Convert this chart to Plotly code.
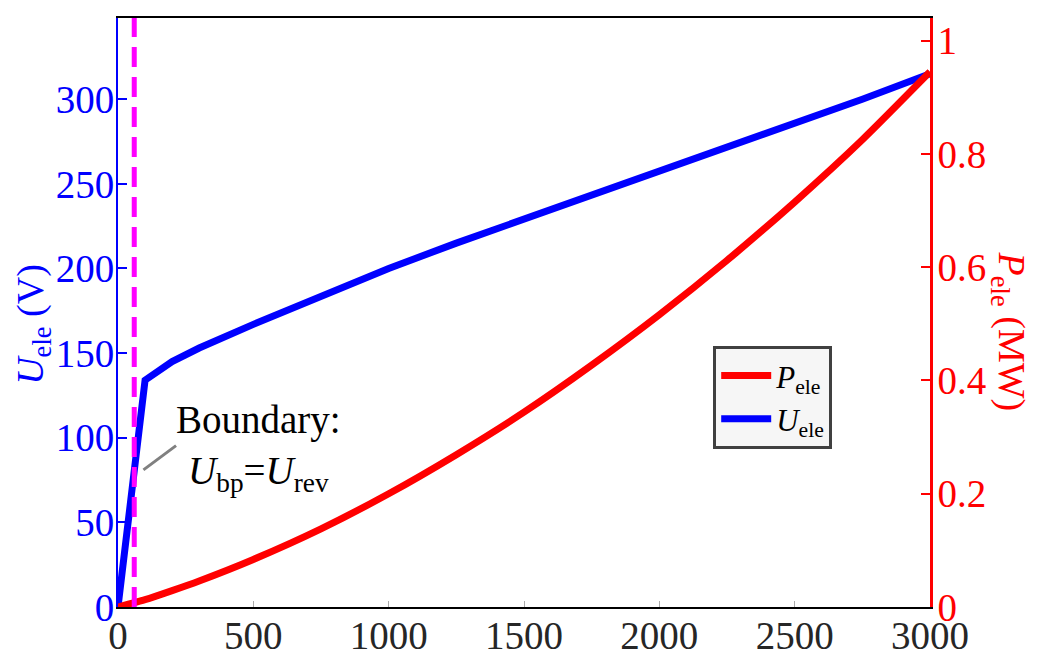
"""
Tension et puissance de l'électrolyseur en fonction du courant.
"""

import plotly.graph_objects as go

#### Données
courant = [0, 100, 200, 300, 500, 750, 1000, 1250, 1500, 1750, 2000, 2250, 2500, 2750, 3000]
u_ele = [0, 134, 145, 153, 167, 184, 200, 215, 229, 244, 258, 272, 286, 300, 315]
p_ele = [0, 0.013, 0.029, 0.046, 0.084, 0.138, 0.200, 0.269, 0.344, 0.427, 0.516, 0.612, 0.715, 0.825, 0.945]

# frontière U_bp = U_rev
i_boundary = 60

x_ticks = [0, 500, 1000, 1500, 2000, 2500, 3000]
u_ticks = [0, 50, 100, 150, 200, 250, 300]
p_ticks = [0, 0.2, 0.4, 0.6, 0.8, 1]
p_tick_labels = ["0", "0.2", "0.4", "0.6", "0.8", "1"]

FONT = "Liberation Serif, Times New Roman, serif"
BLUE = "#0000ff"
RED = "#ff0000"


def main():
    fig = go.Figure()

    fig.add_trace(go.Scatter(
        x=courant, y=u_ele, mode="lines", name="<i>U</i><sub>ele</sub>",
        line=dict(color=BLUE, width=7), legendrank=2,
    ))
    fig.add_trace(go.Scatter(
        x=courant, y=p_ele, mode="lines", name="<i>P</i><sub>ele</sub>",
        line=dict(color=RED, width=7, shape="spline", smoothing=0.6),
        yaxis="y2", legendrank=1,
    ))

    # ligne verticale en pointillés
    fig.add_shape(
        type="line", xref="x", yref="paper",
        x0=i_boundary, x1=i_boundary, y0=0, y1=1,
        line=dict(color="#ff00ff", width=5, dash="20px,10px"),
    )

    # annotation "Boundary"
    fig.add_annotation(
        x=94, y=81, ax=220, ay=96, xref="x", yref="y", axref="x", ayref="y",
        text="", showarrow=True, arrowhead=0, arrowwidth=3, arrowcolor="#808080",
    )
    fig.add_annotation(
        x=520, y=94, xref="x", yref="y", showarrow=False,
        xanchor="center", yanchor="middle",
        text="Boundary:<br><i>U</i><sub>bp</sub>=<i>U</i><sub>rev</sub>",
        font=dict(family=FONT, size=39, color="black"), align="center",
    )

    # titres des axes
    fig.add_annotation(
        x=-0.104, y=0.48, xref="paper", yref="paper", showarrow=False,
        xanchor="center", yanchor="middle",
        text="<i>U</i><sub>ele</sub> (V)", textangle=-90,
        font=dict(family=FONT, size=38, color=BLUE),
    )
    fig.add_annotation(
        x=1.097, y=0.468, xref="paper", yref="paper", showarrow=False,
        xanchor="center", yanchor="middle",
        text="<i>P</i><sub>ele</sub> (MW)", textangle=90,
        font=dict(family=FONT, size=38, color=RED),
    )

    fig.update_layout(
        width=1043, height=666,
        margin=dict(l=110, r=121, t=10, b=67, autoexpand=False),
        plot_bgcolor="white", paper_bgcolor="white",
        font=dict(family=FONT, size=38),
        showlegend=True,
        legend=dict(
            x=0.733, y=0.356, xanchor="left", yanchor="middle",
            bgcolor="#f6f6f6", bordercolor="#404040", borderwidth=3,
            font=dict(family=FONT, size=31, color="black"),
            tracegroupgap=0, itemwidth=50,
        ),
        xaxis=dict(
            range=[0, 3000], tickvals=x_ticks, showgrid=False, zeroline=False,
            showline=True, linecolor="black", linewidth=2, mirror=True,
            ticks="inside", ticklen=6, tickcolor="#aaaaaa", tickwidth=1,
            tickfont=dict(family=FONT, size=39, color="#262626"),
            ticklabelstandoff=-7, automargin=False,
        ),
        yaxis=dict(
            range=[0, 348], tickvals=u_ticks, showgrid=False, zeroline=False,
            showline=True, linecolor=BLUE, linewidth=2,
            ticks="inside", ticklen=9, tickcolor=BLUE, tickwidth=2,
            tickfont=dict(family=FONT, size=39, color=BLUE),
            ticklabelstandoff=-6, automargin=False,
        ),
        yaxis2=dict(
            range=[0, 1.04], tickvals=p_ticks, ticktext=p_tick_labels,
            overlaying="y", side="right", showgrid=False, zeroline=False,
            showline=True, linecolor=RED, linewidth=2.5,
            ticks="inside", ticklen=9, tickcolor=RED, tickwidth=2,
            tickfont=dict(family=FONT, size=39, color=RED),
            ticklabelstandoff=-3, automargin=False,
        ),
    )

    fig.write_html("out.html")


if __name__ == "__main__":
    main()
